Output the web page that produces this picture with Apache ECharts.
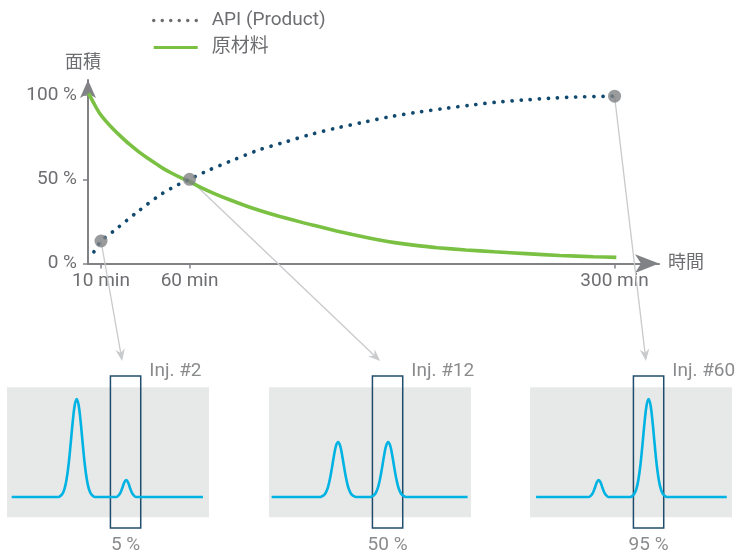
<!DOCTYPE html>
<html><head><meta charset="utf-8">
<script src="https://cdn.jsdelivr.net/npm/echarts@6/dist/echarts.min.js"></script>
<style>html,body{margin:0;padding:0;background:#fff}#c{width:738px;height:550px}</style>
</head><body><div id="c"></div>
<script>
// ---------- data ----------
const timeTicks = [10, 60, 300];
const timeTickLabels = ['10 min', '60 min', '300 min'];
const percentTicks = [0, 50, 100];
const seriesNames = ['API (Product)', '原材料'];
const apiCurve = [[6,7],[10,13.4],[17,19.2],[30,30.2],[43,40.5],[52,46],[60,50],[71,55.5],[85,61.6],[99,67.4],[114,72.1],[128,76.5],[143,80.4],[158,83.8],[173,87.1],[188,89.7],[203,91.9],[218,93.9],[233,95.7],[248,97],[263,98],[278,98.8],[294,99.2],[300,99.3]];
const materialCurve = [[3,101],[6,95],[9,89.5],[13,84.2],[17,79.7],[21,75.6],[26,70.8],[31,66.6],[36,62.8],[41,59.3],[45,56.5],[50,53.6],[55,51],[60,48.6],[66,45.4],[73,42],[83,37.7],[92,34.2],[101,31.1],[111,28],[124,24.3],[133,22],[143,19.4],[152,17.2],[162,15],[171,13.3],[181,11.7],[190,10.5],[200,9.4],[216,8.1],[232,7],[250,5.9],[269,4.8],[288,4.1],[301,3.7]];
const sampleTimes = [10, 60, 300];
const sampleApi = [13.4, 50, 99.3];
const injLabels = ['Inj. #2', 'Inj. #12', 'Inj. #60'];
const injShares = ['5 %', '50 %', '95 %'];
const inj2Trace = [[2.3,0],[25.5,0],[26.5,1.2],[27.5,3.4],[28.5,8.3],[29.5,17.7],[30.5,32.7],[31.5,52.8],[32.5,74.5],[33.5,91.5],[34.5,98],[35.5,91.5],[36.5,74.5],[37.5,52.8],[38.5,32.7],[39.5,17.7],[40.5,8.3],[41.5,3.4],[42.5,1.2],[43.5,0],[54,0],[55,1.1],[56,3.6],[57,8.5],[58,14.3],[59,17],[60,14.3],[61,8.5],[62,3.6],[63,1.1],[64,0],[97,0]];
const inj12Trace = [[1.3,0],[25.2,0],[26.2,0.7],[27.2,1.9],[28.2,4.7],[29.2,9.9],[30.2,18.4],[31.2,29.6],[32.2,41.8],[33.2,51.4],[34.2,55],[35.2,51.4],[36.2,41.8],[37.2,29.6],[38.2,18.4],[39.2,9.9],[40.2,4.7],[41.2,1.9],[42.2,0.7],[43.2,0],[50,0],[51,0.7],[52,1.9],[53,4.7],[54,9.9],[55,18.4],[56,29.6],[57,41.8],[58,51.4],[59,55],[60,51.4],[61,41.8],[62,29.6],[63,18.4],[64,9.9],[65,4.7],[66,1.9],[67,0.7],[68,0],[98.3,0]];
const inj60Trace = [[3,0],[29,0],[30,1.1],[31,3.6],[32,8.5],[33,14.3],[34,17],[35,14.3],[36,8.5],[37,3.6],[38,1.1],[39,0],[49.7,0],[50.7,1.2],[51.7,3.4],[52.7,8.3],[53.7,17.7],[54.7,32.7],[55.7,52.8],[56.7,74.5],[57.7,91.5],[58.7,98],[59.7,91.5],[60.7,74.5],[61.7,52.8],[62.7,32.7],[63.7,17.7],[64.7,8.3],[65.7,3.4],[66.7,1.2],[67.7,0],[97.4,0]];
const traces = [inj2Trace, inj12Trace, inj60Trace];
const windowRange = [51.2, 66.2];

// ---------- layout / style ----------
const FONT = 'Roboto, "Noto Sans CJK JP", sans-serif';
const TXT = '#6d6e71';
const AX = '#808285';
const FS = 19;
const insetLefts = [7, 269, 530];
const insetY = [-31, 121];
const panelY = [-20.3, 109.7];
const arrowEnds = [[57, 136], [55, 136], [57.4, 136]];

const grids = [{left: 88, top: 80, width: 571, height: 183.6, outerBoundsMode: 'none'}];
const xAxes = [{
  type: 'value', gridIndex: 0, min: 2.65, max: 325.1,
  axisLine: {show: true, lineStyle: {color: AX, width: 2}, symbol: ['none', 'arrow'], symbolSize: [14, 24]},
  axisTick: {show: true, customValues: timeTicks, length: 5, lineStyle: {color: AX, width: 1.5}},
  axisLabel: {customValues: timeTicks, formatter: v => timeTickLabels[timeTicks.indexOf(v)], color: TXT, fontSize: FS, fontFamily: FONT, margin: 8},
  splitLine: {show: false},
  name: '時間', nameLocation: 'end', nameGap: 9,
  nameTextStyle: {color: TXT, fontSize: 18, fontFamily: FONT, verticalAlign: 'middle', padding: [0, 0, 8, 0]}
}];
const yAxes = [{
  type: 'value', gridIndex: 0, min: 0, max: 108.9,
  axisLine: {show: true, lineStyle: {color: AX, width: 2}, symbol: ['none', 'arrow'], symbolSize: [12, 18]},
  axisTick: {show: true, customValues: percentTicks, length: 5, lineStyle: {color: AX, width: 1.5}},
  axisLabel: {customValues: percentTicks, formatter: v => v + ' %', color: TXT, fontSize: FS, fontFamily: FONT, margin: 11},
  splitLine: {show: false},
  name: '面積', nameLocation: 'end', nameGap: 8,
  nameTextStyle: {color: TXT, fontSize: 18, fontFamily: FONT, align: 'center', verticalAlign: 'bottom', padding: [0, 10, 0, 0]}
}];
const series = [
  {name: seriesNames[0], type: 'line', xAxisIndex: 0, yAxisIndex: 0, data: apiCurve, smooth: 0.25,
   symbol: 'none', showSymbol: false, z: 3,
   lineStyle: {color: '#114a6e', width: 3.7, type: [0.1, 9], cap: 'round'}, itemStyle: {color: '#114a6e'}},
  {name: seriesNames[1], type: 'line', xAxisIndex: 0, yAxisIndex: 0, data: materialCurve, smooth: 0.25,
   symbol: 'none', showSymbol: false, z: 2,
   lineStyle: {color: '#7ac143', width: 3.6}, itemStyle: {color: '#7ac143'}},
  {type: 'scatter', xAxisIndex: 0, yAxisIndex: 0, data: sampleTimes.map((t, i) => [t, sampleApi[i]]),
   symbolSize: 13, itemStyle: {color: AX}, z: 6, silent: true, clip: false}
];
traces.forEach((tr, i) => {
  grids.push({left: insetLefts[i], top: 376, width: 202, height: 152, outerBoundsMode: 'none'});
  xAxes.push({type: 'value', gridIndex: i + 1, min: 0, max: 100, show: false});
  yAxes.push({type: 'value', gridIndex: i + 1, min: insetY[0], max: insetY[1], show: false});
  series.push({
    type: 'line', xAxisIndex: i + 1, yAxisIndex: i + 1, data: tr, smooth: 0.4, symbol: 'none', showSymbol: false, z: 3,
    lineStyle: {color: '#00b3e3', width: 2.6},
    markArea: {silent: true, data: [
      [{coord: [0, panelY[0]], itemStyle: {color: '#e7e8e8'}}, {coord: [100, panelY[1]]}],
      [{coord: [windowRange[0], insetY[0]], itemStyle: {color: 'rgba(0,0,0,0)', borderColor: '#1f4d6b', borderWidth: 1.5}}, {coord: [windowRange[1], insetY[1]]}]
    ]}
  });
  series.push({
    type: 'scatter', xAxisIndex: i + 1, yAxisIndex: i + 1, symbolSize: 1, silent: true, clip: false, z: 4,
    itemStyle: {color: 'rgba(0,0,0,0)'},
    data: [
      {value: [windowRange[1], insetY[1]], label: {show: true, position: 'right', distance: 8, offset: [0, -5], formatter: injLabels[i], color: TXT, fontSize: FS, fontFamily: FONT}},
      {value: [(windowRange[0] + windowRange[1]) / 2, insetY[0]], label: {show: true, position: 'bottom', distance: 7, formatter: injShares[i], color: TXT, fontSize: FS, fontFamily: FONT}}
    ]
  });
});

const hiddenSymbol = {color: 'rgba(0,0,0,0)', borderWidth: 0, opacity: 0};
const option = {
  animation: false,
  backgroundColor: '#ffffff',
  legend: {
    left: 152, top: 11, padding: 0, orient: 'vertical', itemWidth: 44, itemHeight: 14, itemGap: 8, selectedMode: false,
    textStyle: {color: TXT, fontSize: FS, fontFamily: FONT, padding: [0, 0, 0, 9]},
    data: [
      {name: seriesNames[0], itemStyle: hiddenSymbol, lineStyle: {color: '#6d6e71', width: 3.4, type: [0.1, 8.4], cap: 'round'}},
      {name: seriesNames[1], itemStyle: hiddenSymbol, lineStyle: {color: '#7ac143', width: 3}}
    ]
  },
  grid: grids, xAxis: xAxes, yAxis: yAxes, series: series
};
const chart = echarts.init(document.getElementById('c'), null, {renderer: 'canvas'});
chart.setOption(option);

// annotation connectors from sample markers to the injection panels
const graphics = [];
const LC = '#c8cacb';
sampleTimes.forEach((t, i) => {
  const p0 = chart.convertToPixel({gridIndex: 0}, [t, sampleApi[i]]);
  const p1 = chart.convertToPixel({gridIndex: i + 1}, arrowEnds[i]);
  const dx = p1[0] - p0[0], dy = p1[1] - p0[1];
  const len = Math.hypot(dx, dy);
  const ux = dx / len, uy = dy / len, nx = -uy, ny = ux;
  const L = 12, W = 4.8, N = 4;
  const bx = p1[0] - ux * L, by = p1[1] - uy * L;
  const mx = p1[0] - ux * (L - N), my = p1[1] - uy * (L - N);
  graphics.push({type: 'line', silent: true, z: 1, shape: {x1: p0[0], y1: p0[1], x2: mx, y2: my}, style: {stroke: LC, lineWidth: 1.3}});
  graphics.push({type: 'polygon', silent: true, z: 1, shape: {points: [[p1[0], p1[1]], [bx + nx * W, by + ny * W], [mx, my], [bx - nx * W, by - ny * W]]}, style: {fill: LC}});
});
chart.setOption({graphic: graphics});
</script>
</body></html>
